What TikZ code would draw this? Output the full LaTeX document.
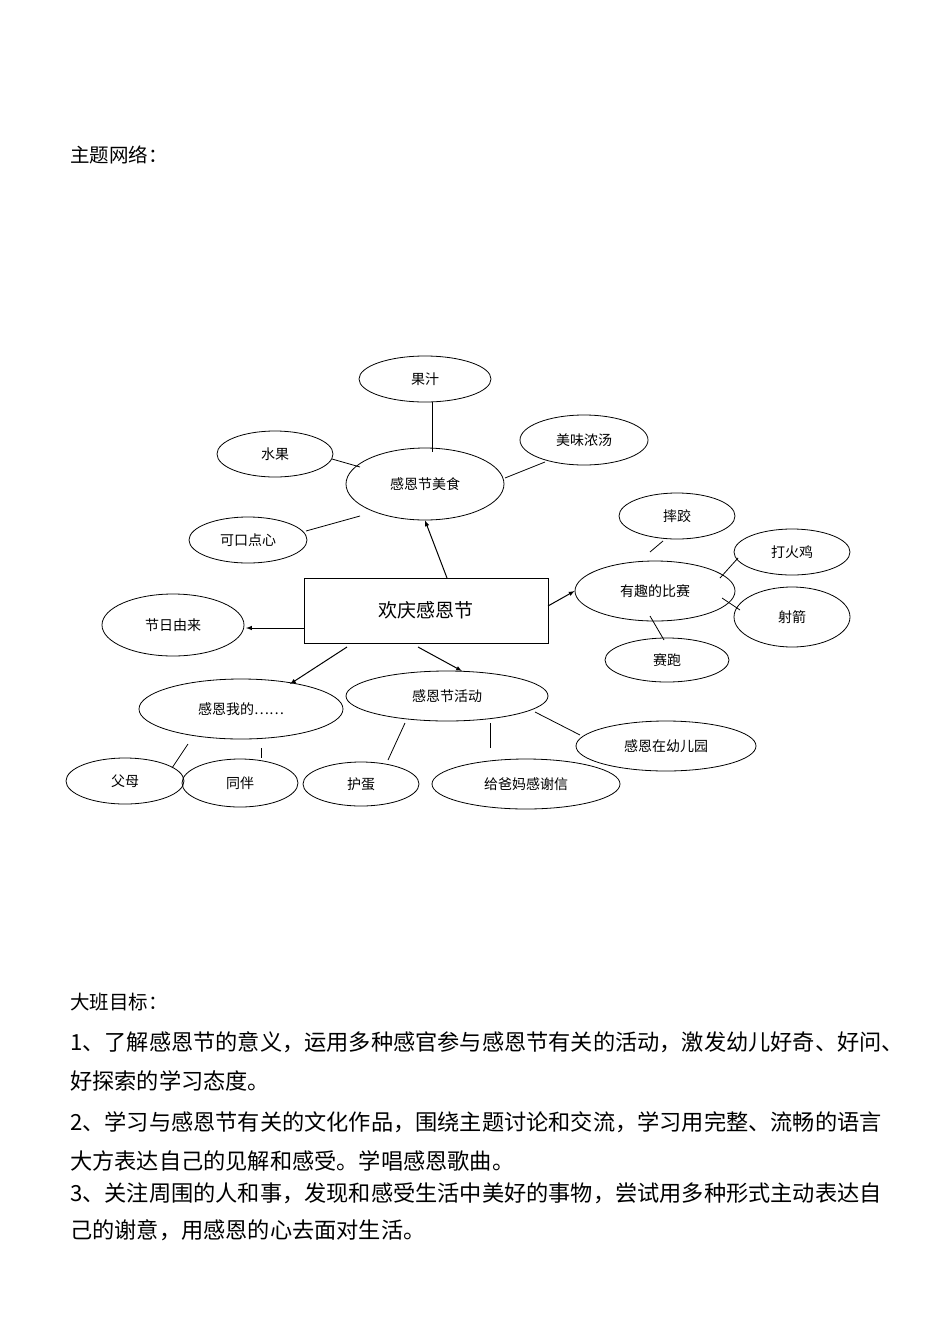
\documentclass[tikz,border=0pt]{standalone}
\usepackage{fontspec}
\setmainfont{Liberation Serif}
\newfontfamily\cjk{Noto Sans CJK SC}
\usetikzlibrary{shapes.geometric}
\begin{document}
\begin{tikzpicture}[x=1pt,y=-1pt,
  ell/.style={draw,ellipse,line width=0.8pt,inner sep=0pt,font=\cjk\fontsize{14}{16}\selectfont},
  arr/.style={-latex,line width=1pt},
  ln/.style={line width=0.8pt},
  body/.style={anchor=west,font=\cjk\fontsize{22.2}{24}\selectfont,inner sep=0pt}]
\useasboundingbox[fill=white] (0,0) rectangle (950,1344);
\node[body,font=\cjk\fontsize{19.5}{22}\selectfont] (title) at (70,155) {主题网络：};
\newcommand{\myell}[5]{\node[ell,minimum width=#3pt,minimum height=#4pt] (#1) at #2 {#5};}
\myell{gz}{(425,379)}{132}{46}{果汁}
\myell{sg}{(275,454)}{116}{46}{水果}
\myell{mw}{(584,440)}{128}{50}{美味浓汤}
\myell{ms}{(425,484)}{158}{72}{感恩节美食}
\myell{kk}{(248,540)}{118}{46}{可口点心}
\myell{sj}{(677,516)}{116}{46}{摔跤}
\myell{dh}{(792,552)}{116}{46}{打火鸡}
\myell{bs}{(655,591)}{160}{60}{有趣的比赛}
\myell{sjj}{(792,617)}{116}{60}{射箭}
\myell{jr}{(173,625)}{142}{62}{节日由来}
\myell{sp}{(667,660)}{124}{44}{赛跑}
\myell{wd}{(241,709)}{204}{60}{感恩我的……}
\myell{hd}{(447,696)}{202}{50}{感恩节活动}
\myell{yey}{(666,746)}{180}{50}{感恩在幼儿园}
\myell{fm}{(125,781)}{118}{46}{父母}
\myell{tb}{(240,783)}{116}{48}{同伴}
\myell{hu}{(361,784)}{116}{44}{护蛋}
\myell{xx}{(526,784)}{188}{50}{给爸妈感谢信}
\node[draw,line width=0.8pt,minimum width=244pt,minimum height=65pt,font=\cjk\fontsize{19}{22}\selectfont] (c) at (426,610.5) {欢庆感恩节};
% arrows
\draw[arr] (447,578) -- (ms.south);
\draw[arr] (548,606) -- (bs.west);
\draw[arr] (304,628) -- (246,628);
\draw[arr] (347,647) -- (290,684);
\draw[arr] (418,647) -- (462,671);
% lines
\draw[ln] (432,402) -- (432,452);
\draw[ln] (332,459) -- (360,467);
\draw[ln] (505,478) -- (545,462);
\draw[ln] (306,531) -- (360,516);
\draw[ln] (650,552) -- (663,541);
\draw[ln] (720,578) -- (738,558);
\draw[ln] (722,598) -- (740,610);
\draw[ln] (650,616) -- (664,640);
\draw[ln] (188,744) -- (172,768);
\draw[ln] (261,748) -- (261,758);
\draw[ln] (405,723) -- (388,760);
\draw[ln] (490,723) -- (490,748);
\draw[ln] (535,712) -- (580,735);
% text
\node[body,font=\cjk\fontsize{19.5}{22}\selectfont] (t0) at (70,1002) {大班目标：};
\node[body] (t1) at (70,1042) {1、了解感恩节的意义，运用多种感官参与感恩节有关的活动，激发幼儿好奇、好问、};
\node[body] (t2) at (70,1081) {好探索的学习态度。};
\node[body] (t3) at (70,1122) {2、学习与感恩节有关的文化作品，围绕主题讨论和交流，学习用完整、流畅的语言};
\node[body] (t4) at (70,1161) {大方表达自己的见解和感受。学唱感恩歌曲。};
\node[body] (t5) at (70,1193) {3、关注周围的人和事，发现和感受生活中美好的事物，尝试用多种形式主动表达自};
\node[body] (t6) at (70,1230) {己的谢意，用感恩的心去面对生活。};
\end{tikzpicture}
\end{document}
